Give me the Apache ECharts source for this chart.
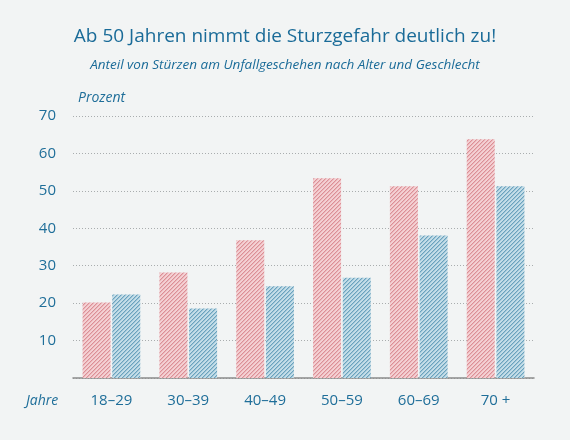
<!DOCTYPE html>
<html><head><meta charset="utf-8">
<script src="https://cdn.jsdelivr.net/npm/echarts@6/dist/echarts.min.js"></script>
<style>html,body{margin:0;padding:0;background:#f2f4f4;}#c{width:570px;height:440px;}</style>
</head><body><div id="c"></div>
<script>
var categories = ['18\u201329', '30\u201339', '40\u201349', '50\u201359', '60\u201369', '70 +'];
var redValues = [20.2, 28.2, 36.8, 53.4, 51.2, 63.8];
var blueValues = [22.3, 18.6, 24.5, 26.8, 38.1, 51.2];
var yTicks = [0, 10, 20, 30, 40, 50, 60, 70];

function hatch(bg, fg) {
  var n = 4;
  var cv = document.createElement('canvas');
  cv.width = n; cv.height = n;
  var ctx = cv.getContext('2d');
  ctx.fillStyle = bg; ctx.fillRect(0, 0, n, n);
  ctx.fillStyle = fg;
  for (var i = 0; i < n; i++) {
    ctx.fillRect(i, n - 1 - i, 1, 1);
    ctx.globalAlpha = 0.4;
    ctx.fillRect((i + 1) % n, n - 1 - i, 1, 1);
    ctx.globalAlpha = 1;
  }
  return { image: cv, repeat: 'repeat' };
}
var txt = '#1f6e99';
var chart = echarts.init(document.getElementById('c'));
chart.setOption({
  backgroundColor: '#f2f4f4',
  animation: false,
  title: [
    { text: 'Ab 50 Jahren nimmt die Sturzgefahr deutlich zu!', left: 'center', top: 22,
      textStyle: { color: '#1a6b98', fontSize: 19, fontWeight: 'normal', fontFamily: 'Open Sans' } },
    { text: 'Anteil von Stürzen am Unfallgeschehen nach Alter und Geschlecht', left: 'center', top: 53,
      textStyle: { color: '#1a6b98', fontSize: 13.5, fontStyle: 'italic', fontWeight: 'normal', fontFamily: 'Open Sans' } }
  ],
  graphic: [
    { type: 'text', left: 78, top: 91, style: { text: 'Prozent', fill: txt, font: 'italic 14px "Open Sans"' } },
    { type: 'text', left: 26, top: 394, style: { text: 'Jahre', fill: txt, font: 'italic 14px "Open Sans"' } }
  ],
  grid: { left: 73, right: 36, top: 116, bottom: 62 },
  xAxis: {
    type: 'category', data: categories,
    axisLine: { lineStyle: { color: '#8a8a8a', width: 1.5 } },
    axisTick: { show: false },
    axisLabel: { color: txt, fontSize: 15, margin: 15, fontFamily: 'Open Sans' }
  },
  yAxis: {
    type: 'value', min: yTicks[0], max: yTicks[yTicks.length - 1], interval: 10,
    axisLine: { show: false }, axisTick: { show: false },
    axisLabel: { color: txt, fontSize: 15, margin: 17, fontFamily: 'Open Sans',
      formatter: function (v) { return v === 0 ? '' : String(v); } },
    splitLine: { lineStyle: { color: '#a9adae', type: [1, 2], width: 1 } }
  },
  series: [
    { type: 'bar', data: redValues, barWidth: 28, barGap: '6%',
      itemStyle: { color: hatch('#f4d0d3', '#dc8f96') } },
    { type: 'bar', data: blueValues, barWidth: 28,
      itemStyle: { color: hatch('#c4dde8', '#6aa2bd') } }
  ]
});
</script></body></html>
